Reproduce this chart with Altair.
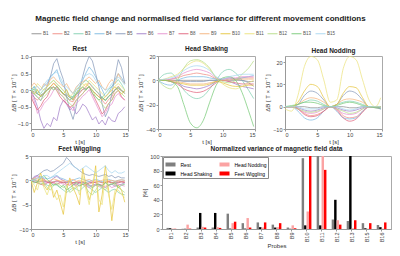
import altair as alt
import pandas as pd

PROBES = ["B1", "B2", "B3", "B4", "B5", "B6", "B7", "B8", "B9", "B10", "B11", "B12", "B13", "B15"]
COLORS = ["#8c8c8c", "#f08a80", "#7fcfb0", "#7ab8e0", "#8396b8", "#a07cc8", "#e68fcf", "#e0607a",
          "#f5b27a", "#e6c43a", "#ece27a", "#b5dc84", "#74c874", "#a6d6f0"]

T_NOISY = [i * 0.5 for i in range(30)]
T_SMOOTH = [0, 1, 2, 3, 4, 5, 6, 7, 8, 9, 10, 11, 12, 13, 14, 14.8]

REST = {
    "B1": [0.0, -0.05, -0.12, -0.15, -0.08, 0.0, 0.06, 0.1, 0.03, 0.0, -0.12, -0.15, -0.22, -0.25, -0.13, -0.05, 0.02, 0.05, 0.1, -0.02, -0.1, -0.2, -0.24, -0.3, -0.18, -0.1, 0.02, 0.05, -0.02, -0.05],
    "B2": [-0.1, -0.22, -0.3, -0.18, -0.12, 0.02, 0.1, 0.22, 0.12, 0.0, -0.12, -0.2, -0.32, -0.35, -0.18, -0.1, 0.03, 0.1, 0.22, 0.08, 0.0, -0.12, -0.3, -0.42, -0.28, -0.2, 0.02, 0.12, -0.02, -0.1],
    "B3": [0.0, 0.12, -0.02, -0.1, 0.03, 0.1, 0.22, 0.3, 0.18, 0.1, -0.02, -0.1, -0.18, -0.2, 0.02, 0.1, 0.22, 0.3, 0.22, 0.12, -0.02, -0.1, -0.22, -0.1, 0.02, 0.12, 0.2, 0.32, 0.18, 0.0],
    "B4": [0.0, 0.1, -0.1, 0.02, 0.12, 0.2, 0.42, 0.5, 0.62, 0.3, 0.12, 0.0, -0.22, -0.3, -0.1, 0.12, 0.3, 0.52, 0.7, 0.58, 0.4, 0.2, 0.02, -0.2, -0.08, 0.1, 0.32, 0.5, 0.38, 0.2],
    "B5": [0.0, -0.12, -0.2, -0.32, -0.1, 0.12, 0.4, 0.8, 0.95, 0.6, 0.32, -0.2, -0.6, -0.88, -0.5, 0.02, 0.42, 0.78, 1.02, 0.88, 0.5, 0.1, -0.42, -0.8, -0.58, -0.1, 0.42, 0.92, 0.68, 0.2],
    "B6": [0.0, -0.22, -0.5, -0.9, -1.15, -1.0, -1.1, -0.82, -0.92, -0.5, -0.3, -0.42, -0.6, -0.5, -0.72, -0.6, -0.42, -0.5, -0.7, -0.9, -0.8, -1.02, -0.9, -1.05, -0.8, -0.92, -0.95, -0.7, -0.62, -0.5],
    "B7": [-0.1, -0.32, -0.7, -0.58, -0.4, -0.3, -0.18, 0.0, 0.1, -0.12, -0.2, -0.42, -0.5, -0.62, -0.4, -0.3, -0.18, -0.1, 0.02, -0.2, -0.4, -0.6, -0.8, -0.68, -0.5, -0.42, -0.2, -0.1, -0.22, -0.3],
    "B8": [-0.2, -0.42, -0.6, -0.48, -0.3, -0.2, 0.02, 0.1, -0.02, -0.2, -0.32, -0.4, -0.52, -0.45, -0.3, -0.2, -0.1, 0.02, 0.1, -0.1, -0.3, -0.5, -0.72, -0.6, -0.4, -0.3, -0.1, 0.0, -0.2, -0.3],
    "B9": [0.1, 0.22, 0.1, 0.0, 0.2, 0.12, 0.32, 0.4, 0.28, 0.2, 0.1, 0.2, 0.02, -0.1, 0.1, 0.2, 0.25, 0.32, 0.4, 0.3, 0.2, 0.3, 0.1, 0.0, 0.2, 0.32, 0.2, 0.5, 0.3, 0.2],
    "B10": [0.0, -0.12, 0.02, -0.2, -0.1, 0.02, 0.1, 0.2, 0.1, 0.0, -0.12, 0.02, -0.2, -0.3, -0.1, 0.02, 0.1, 0.2, 0.1, 0.0, -0.12, -0.2, -0.3, -0.2, -0.1, 0.02, 0.1, 0.0, -0.12, 0.0],
    "B11": [0.1, 0.0, 0.2, 0.1, 0.0, 0.12, 0.2, 0.3, 0.2, 0.1, 0.0, -0.1, -0.2, -0.1, 0.02, 0.1, 0.2, 0.1, 0.3, 0.2, 0.1, 0.0, -0.1, -0.2, -0.1, 0.0, 0.12, 0.2, 0.1, 0.0],
    "B12": [0.0, -0.1, -0.22, -0.3, -0.2, -0.1, 0.02, 0.1, 0.0, -0.12, -0.2, -0.32, -0.4, -0.5, -0.3, -0.2, -0.1, 0.02, 0.1, 0.0, -0.2, -0.3, -0.42, -0.55, -0.4, -0.3, -0.1, 0.0, -0.1, -0.2],
    "B13": [0.0, 0.02, -0.1, -0.2, -0.1, 0.0, 0.1, 0.0, 0.12, 0.0, -0.1, -0.2, -0.3, -0.2, -0.1, 0.0, 0.1, 0.0, 0.12, -0.1, -0.2, -0.3, -0.2, -0.32, -0.2, -0.1, 0.0, 0.1, 0.0, -0.1],
    "B15": [0.0, 0.05, 0.12, 0.0, 0.15, 0.3, 0.35, 0.5, 0.55, 0.4, 0.2, 0.1, 0.0, -0.1, 0.05, 0.2, 0.35, 0.45, 0.5, 0.45, 0.3, 0.15, 0.1, 0.0, 0.05, 0.2, 0.3, 0.4, 0.3, 0.15],
}

SHAKE = {
    "B1": [0, 0, 0, 0, 0, 0, 0, 0, 0, 0, 0, 0, 0, 0, -1, -1],
    "B2": [0, 0, 1, 2, 4, 5, 6, 5, 4, 1, 0, 1, 1, 2, 2, 2],
    "B3": [0, 5, 6, 0, -8, -13, -15, -13, -7, 0, 7, 9, 6, 0, -8, -15],
    "B4": [0, -3, -4, 0, 2, 3, 3, 3, 2, 1, 0, 0, 1, 2, 3, 4],
    "B5": [0, 0, 0, 0, -1, -1, -1, -1, 0, 0, 1, 2, 1, 0, -2, -5],
    "B6": [0, 0, -1, -2, -5, -6, -7, -6, -4, -1, 0, -1, -3, -5, -6, -7],
    "B7": [0, 0, 1, 3, 6, 8, 9, 8, 6, 2, 1, 2, 2, 3, 3, 3],
    "B8": [0, 0, -1, -3, -7, -9, -10, -9, -6, -2, 0, -1, -2, -3, -3, -3],
    "B9": [0, 0, 0, -1, -2, -3, -3, -3, -2, -1, 0, 0, 1, 1, 1, 1],
    "B10": [0, 0, -1, -2, -3, -4, -4, -4, -3, -1, -2, -4, -5, -5, -4, -4],
    "B11": [0, 1, 3, 5, 10, 14, 16, 14, 9, 2, -3, -6, -7, -5, -2, 0],
    "B12": [0, -5, -7, 0, 10, 16, 17, 15, 10, 2, -1, -2, 0, 5, 10, 16],
    "B13": [0, 0, -1, -5, -20, -35, -39, -33, -18, -4, 2, 3, 0, -10, -25, -38],
    "B15": [0, 1, 2, 4, 8, 11, 12, 11, 8, 3, 1, 3, 4, 5, 5, 5],
}

NOD = {
    "B1": [0, 0, 0, 0, -0.5, -0.5, 0, 0, 0, 0, -0.5, -0.5, 0, 0, -0.5, -1],
    "B2": [0, 0, -1, -3, -4, -3.5, -2, 0, -1, -4, -5, -4.5, -2, 0, 0, 0],
    "B3": [0, 0, 1, 2, 3, 2.5, 1, 0, 1, 2, 2.5, 2, 1, 0, 0, 0],
    "B4": [0, 0, -2, -5, -6, -5, -2, 0, -2, -5, -5.5, -5, -2, 0, 0, -1],
    "B5": [0, 0, 1, 5, 7, 6, 3, 0, 1, 5, 7, 6, 3, 0, 0, -1],
    "B6": [0, 0, -0.5, -1.5, -2, -1.5, -0.5, 0, -0.5, -1.5, -2, -1.5, -0.5, 0, 0, 0],
    "B7": [0, 0, -1, -2.5, -3, -2.5, -1, 0, -1, -3, -3.5, -3, -1, 0, 0, 0],
    "B8": [0, 0, -1, -3.5, -4.5, -4, -2, 0, -1.5, -5, -6.5, -5.5, -2.5, 0, 0, 0],
    "B9": [0, 0, 1, 3, 4, 3.5, 2, 0, 1, 3, 3.5, 3, 2, 0, 0, 0],
    "B10": [0, 0, 2, 7, 10, 9, 4, 0, 1, 6, 9, 8.5, 4, 0, 0, 0],
    "B11": [-1, -2, 5, 18, 22.5, 21, 12, 2, 3, 17, 22.5, 21, 12, 3, 0, 4],
    "B12": [0, 0, -1, -2, -2.5, -2, -1, 0, -1, -2, -3, -2.5, -1, 0, 0, 0],
    "B13": [0, 0.5, 1, 2, 2, 1.5, 0.5, 0, 0.5, 1.5, 2, 1.5, 0.5, 0, -0.5, -0.5],
    "B15": [0, 0, 0, -1, -1, -1, 0, 0, 0, -1, -1.5, -1, 0, 0, 0, 0],
}

FEET = {
    "B1": [0, 0, -0.2, -0.3, -0.2, -0.3, -0.5, -0.3, -0.2, -0.3, -0.5, -0.4, -0.3, -0.5, -0.4, -0.3, -0.5, -0.4, -0.3, -0.5, -0.4, -0.3, -0.5, -0.4, -0.3, -0.4, -0.5, -0.4, -0.3, -0.4],
    "B2": [0, 0.2, 0, -0.2, 0, -0.3, -0.5, -0.3, 0, -0.2, -0.5, -0.3, -0.2, -0.5, -0.8, -0.5, -0.3, -0.5, -0.8, -0.5, -0.3, -0.2, -0.5, -0.3, -0.2, -0.5, -0.3, -0.2, -0.3, -0.2],
    "B3": [0, -0.3, -0.5, -0.8, -0.5, -1, -1.2, -0.8, -1, -1.5, -2, -2.5, -2, -1.5, -1.8, -2.2, -1.5, -1, -1.5, -2, -2.5, -2, -1.5, -2, -2.5, -2, -1.8, -2.5, -2.8, -3],
    "B4": [0, 0.2, 0.5, 0.8, 0.5, 0.3, 0.5, 0.8, 1, 0.5, 0.3, 0, -0.3, 0, 0.3, 0.5, 0.2, 0, -0.2, 0, 0.2, 0, -0.3, 0, 0.2, 0, -0.2, 0, 0.1, 0],
    "B5": [0, 0.5, 1, 1.5, 2, 2.2, 1.8, 2, 2.5, 3, 3.5, 4.7, 4, 3, 2.5, 2, 1.5, 1.2, 1, 1.2, 1, 0.8, 1, 1.2, 0.8, 1, 0.5, 0.8, 0.5, 0.5],
    "B6": [0, 0.8, 1, 0.5, 0.3, -0.5, -0.2, 0.5, 0.8, 0.3, 0, -0.5, -0.3, -0.8, -1, -0.5, -0.3, -0.8, -1.2, -1, -0.8, -1, -1.2, -1.5, -1, -0.8, -1.2, -1, -0.8, -0.5],
    "B7": [0, 0.5, 0.8, 0.2, -0.5, -0.3, -0.8, -0.5, -0.2, -0.5, -0.8, -1, -0.5, -0.8, -1.2, -1, -0.8, -1.2, -1.5, -1.2, -1, -1.3, -1.5, -1.2, -1, -1.5, -1.2, -0.8, -1, -1.2],
    "B8": [0, -0.3, -0.5, -0.8, -1, -0.5, -0.3, -0.5, -0.8, -0.5, -0.3, -0.8, -1, -0.5, -0.3, -0.5, -0.8, -1, -0.5, -0.3, -0.5, -0.8, -1, -0.5, -0.3, -0.5, -0.8, -0.5, -0.3, -0.5],
    "B9": [0, 0.5, 0.3, 0, 0.2, -0.2, 0, 0.3, 0.1, -0.2, 0, -0.3, 0, 0.2, -0.2, 0, -0.3, 0, 0.2, -0.2, 0, -0.3, 0, 0.2, -0.1, 0, -0.2, 0, 0.1, 0],
    "B10": [0, -2.5, -0.5, 1.5, -1, -2, -0.5, -3.5, -2, -4.5, -7, -2, 0.5, -1.5, -3, -5, 2.5, -1, -4, -2, 3, -6.5, -3, 3, -2, -8.3, -3, -1, -2, -4.5],
    "B11": [0, -1, -2, 0.5, -1.5, -3, -1, -2.5, -4, -3, -5.5, -1, 0, -2, -1, -3, 1, -2, -5, -1, 2, -4, -5, 1, -3, -6, -2, -2, -3, -3.5],
    "B12": [0, 0.3, -0.3, -0.8, -0.5, -1.5, -2, -1, -0.5, -1, -1.5, -1, -2.5, -2, -1.5, -1, -0.8, -1.5, -2.5, -3, -2, -1, -1.5, -2, -1, -0.5, -1, -1.5, -2, -2.5],
    "B13": [0, -0.5, -0.3, 0.5, 1, 0.2, -0.5, -1, -0.8, -1.5, -1, -2, -1.5, -1, -0.5, -1.2, -0.8, -0.5, -1, -1.5, -1, -0.8, -1.2, -0.5, -1, -0.8, -0.5, -1.5, -1, -0.8],
    "B15": [0, 0, 0.5, 0.5, 1, 1, 0.5, 1, 1.5, 2, 2.5, 3, 3.5, 3, 2.5, 2, 2.5, 3, 2.5, 2, 1.5, 2, 2.5, 3, 2, 1.5, 2, 1.5, 1.5, 1.8],
}

BAR_PROBES = ["B1", "B2", "B3", "B4", "B5", "B6", "B7", "B8", "B9", "B10", "B11", "B12", "B13", "B15", "B16"]
VAR_REST = [1.5, 0.3, 2, 2, 21, 8, 9, 6, 2, 97, 100, 13, 11, 8, 5.5]
VAR_SHAKE = [1, 0.3, 22, 22, 0.5, 0.5, 2.5, 2, 0.3, 5, 5, 40, 100, 1, 2.5]
VAR_NOD = [0.5, 6, 3, 2.5, 8, 15, 2, 2.5, 5, 24, 100, 12, 1, 0.5, 0.5]
VAR_FEET = [0.3, 0.5, 2, 1.5, 10, 2, 9, 8, 1, 100, 81, 6, 12, 8, 9]
CONDS = ["Rest", "Head Shaking", "Head Nodding", "Feet Wiggling"]
COND_LEGEND = ["Rest", "Head Nodding", "Head Shaking", "Feet Wiggling"]
COND_COLORS = ["#7f7f7f", "#fba3a3", "#000000", "#ff0000"]

YTITLE = "ΔB [ T × 10⁻⁷ ]"


def long_df(d, t):
    rows = []
    for p in PROBES:
        for ti, v in zip(t, d[p]):
            rows.append({"t": ti, "v": v, "probe": p})
    return pd.DataFrame(rows)


YAX = dict(minExtent=14, maxExtent=14, titlePadding=1)


def line_panel(d, t, title, ydom, yticks, interp):
    return alt.Chart(long_df(d, t)).mark_line(
        strokeWidth=0.8, opacity=0.9, interpolate=interp, clip=True
    ).encode(
        x=alt.X("t:Q", scale=alt.Scale(domain=[0, 15], nice=False),
                axis=alt.Axis(values=[0, 5, 10, 15], title="t [s]")),
        y=alt.Y("v:Q", scale=alt.Scale(domain=ydom, nice=False, zero=False),
                axis=alt.Axis(values=yticks, title=YTITLE, **YAX)),
        stroke=alt.Stroke("probe:N", scale=alt.Scale(domain=PROBES, range=COLORS),
                          legend=alt.Legend(orient="top", direction="horizontal", title=None,
                                            symbolType="stroke", symbolSize=100, symbolStrokeWidth=1,
                                            labelFontSize=4.5, labelOffset=1, columnPadding=1,
                                            labelColor="#555", padding=0, offset=9)),
    ).properties(width=97, height=73, title=title)


p1 = line_panel(REST, T_NOISY, "Rest", [-1.17, 1.03], [-1, -0.5, 0, 0.5, 1], "linear")
p2 = line_panel(SHAKE, T_SMOOTH, "Head Shaking", [-40, 20], [-40, -20, 0, 20], "monotone")
p3 = line_panel(NOD, T_SMOOTH, "Head Nodding", [-10, 22.7], [-10, 0, 10, 20], "monotone")
p4 = line_panel(FEET, T_NOISY, "Feet Wiggling", [-10, 5], [-10, -5, 0, 5], "linear")

bar_rows = []
for i, p in enumerate(BAR_PROBES):
    for c, arr in zip(CONDS, [VAR_REST, VAR_SHAKE, VAR_NOD, VAR_FEET]):
        bar_rows.append({"probe": p, "cond": c, "val": arr[i]})
bar_df = pd.DataFrame(bar_rows)

bar = alt.Chart(bar_df).mark_bar().encode(
    x=alt.X("probe:N", sort=BAR_PROBES, scale=alt.Scale(paddingInner=0.35, paddingOuter=0.3),
            axis=alt.Axis(title="Probes", labelAngle=270, labelAlign="right", labelBaseline="middle",
                          titlePadding=1)),
    xOffset=alt.XOffset("cond:N", sort=CONDS),
    y=alt.Y("val:Q", scale=alt.Scale(domain=[0, 100], nice=False),
            axis=alt.Axis(values=[0, 20, 40, 60, 80, 100], title="[%]", **YAX)),
    fill=alt.Fill("cond:N", scale=alt.Scale(domain=COND_LEGEND, range=COND_COLORS),
                  legend=alt.Legend(orient="top-left", title=None, columns=2, direction="horizontal",
                                    symbolType="M-1,-0.4H1V0.4H-1Z", symbolSize=100, labelFontSize=5,
                                    strokeColor="#888", fillColor="white", padding=1.5,
                                    columnPadding=6, rowPadding=0, offset=1)),
).properties(width=229, height=73, title="Normalized variance of magnetic field data")

row1 = alt.hconcat(p1, p2, p3, spacing=7).resolve_legend(fill="independent")
row2 = alt.hconcat(p4, bar, spacing=11).resolve_legend(fill="independent")

chart = alt.vconcat(row1, row2, spacing=0).resolve_legend(
    fill="independent"
).properties(
    padding={"left": 1, "top": 7, "right": 0, "bottom": 1},
    title=alt.TitleParams("Magnetic field change and normalised field variance for different movement conditions",
                          fontSize=8, fontWeight="bold", anchor="middle", offset=5)
).configure(font="Liberation Sans").configure_axis(
    labelFontSize=5.5, titleFontSize=6, titleFontWeight="normal", labelColor="#444", titleColor="#333",
    domainColor="#999", tickColor="#999", tickSize=2, grid=False, labelPadding=1, titlePadding=1
).configure_view(stroke="#aaa").configure_title(fontSize=6.5, fontWeight="bold", offset=2, color="#222")

chart.save("out.html", embed_options={"renderer": "svg", "actions": False})
